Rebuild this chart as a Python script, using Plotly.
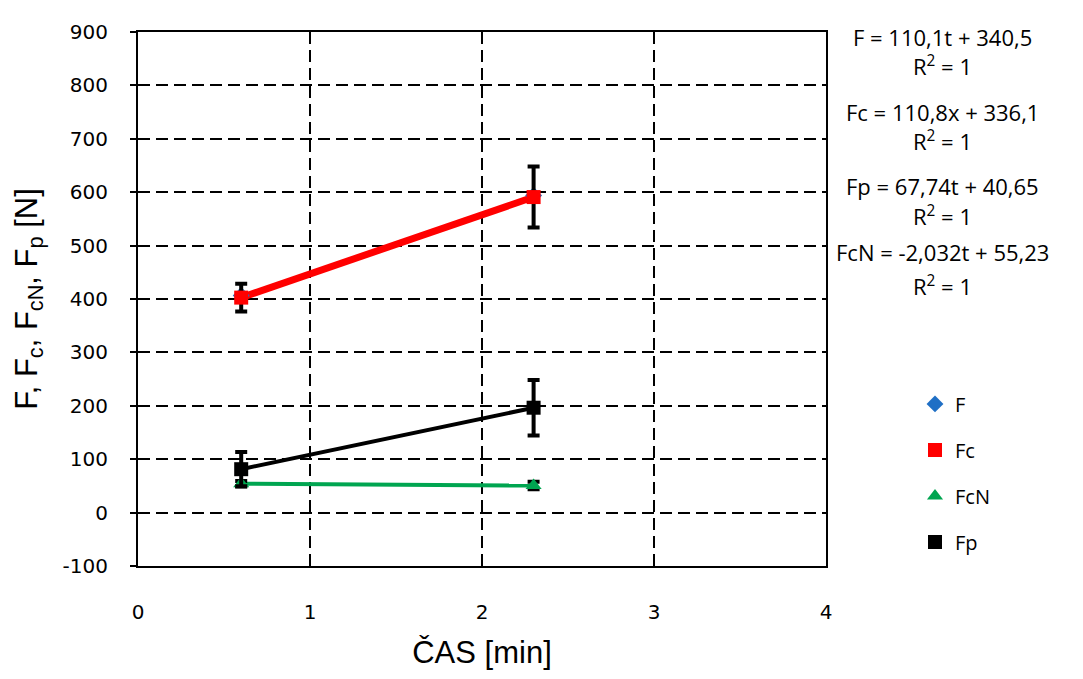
import plotly.graph_objects as go

t = [0.6, 2.3]
F = [406.6, 593.7]
Fc = [402.6, 590.9]
FcN = [54.0, 50.6]
Fp = [81.3, 196.4]
Fc_err = [26, 57]
Fp_err = [32, 52]
FcN_err = [5, 7]

x_ticks = [0, 1, 2, 3, 4]
y_ticks = [-100, 0, 100, 200, 300, 400, 500, 600, 700, 800, 900]
y_tick_text = [str(v) for v in y_ticks]

eq_texts = ["F = 110,1t + 340,5", "R<sup>2</sup> = 1",
            "Fc = 110,8x + 336,1", "R<sup>2</sup> = 1",
            "Fp = 67,74t + 40,65", "R<sup>2</sup> = 1",
            "FcN = -2,032t + 55,23", "R<sup>2</sup> = 1"]
eq_pix_y = [27, 56, 104, 133, 179, 209, 246, 280]

fig = go.Figure()

fig.add_trace(go.Scatter(x=t, y=FcN, mode="lines", line=dict(color="#00a550", width=4), showlegend=False, hoverinfo="skip"))
fig.add_trace(go.Scatter(x=t, y=Fp, mode="lines", line=dict(color="black", width=4), showlegend=False, hoverinfo="skip"))
fig.add_trace(go.Scatter(x=t, y=Fc, mode="lines", line=dict(color="#ff0000", width=7), showlegend=False, hoverinfo="skip"))

err_style = dict(type="data", color="black", thickness=4, width=6)

fig.add_trace(go.Scatter(x=t, y=F, mode="markers", name="F",
                         marker=dict(symbol="diamond", color="#1f6fc5", size=13), legendgroup="F"))
fig.add_trace(go.Scatter(x=t, y=Fc, mode="markers", name="Fc",
                         marker=dict(symbol="square", color="#ff0000", size=14),
                         error_y=dict(array=Fc_err, **err_style), legendgroup="Fc"))
fig.add_trace(go.Scatter(x=t, y=FcN, mode="markers", name="FcN",
                         marker=dict(symbol="triangle-up", color="#00a550", size=14),
                         error_y=dict(array=FcN_err, **err_style), legendgroup="FcN"))
fig.add_trace(go.Scatter(x=t, y=Fp, mode="markers", name="Fp",
                         marker=dict(symbol="square", color="black", size=14),
                         error_y=dict(array=Fp_err, **err_style), legendgroup="Fp"))

OFF = 8  # page body margin
L, R, T, B = 138, 826, 22, 566
W, H = 1083, 679
annotations = []
for txt, py in zip(eq_texts, eq_pix_y):
    annotations.append(dict(x=(942 - L) / (R - L), y=(B - py) / (B - T), xref="paper", yref="paper",
                            text=txt, showarrow=False, xanchor="center", yanchor="middle",
                            font=dict(family="Open Sans, Liberation Sans, sans-serif", size=22, color="black")))

grid = dict(showgrid=True, gridcolor="black", griddash="12px,6px", gridwidth=2,
            showline=True, linecolor="black", linewidth=2, mirror=True, zeroline=False)

fig.update_layout(
    width=W, height=H,
    margin=dict(l=L - OFF, r=W - R + OFF, t=T - OFF, b=H - B + OFF),
    paper_bgcolor="white", plot_bgcolor="white",
    font=dict(family="DejaVu Sans, Verdana, sans-serif", color="black"),
    xaxis=dict(range=[0, 4], tickvals=x_ticks, ticks="", tickfont=dict(size=20), ticklabelstandoff=27,
               title=dict(text="ČAS [min]", font=dict(family="Liberation Sans, Arial, sans-serif", size=31), standoff=18),
               **grid),
    yaxis=dict(range=[-100, 900], tickvals=y_ticks, ticktext=y_tick_text,
               ticks="outside", ticklen=6, tickwidth=2, tickcolor="black", tickfont=dict(size=20), ticklabelstandoff=18,
               title=dict(text="F, F<sub>c</sub>, F<sub>cN</sub>, F<sub>p</sub> [N]",
                          font=dict(family="Liberation Sans, Arial, sans-serif", size=31), standoff=16),
               **grid),
    legend=dict(x=(915 - L) / (R - L), y=(B - 381) / (B - T), xanchor="left", yanchor="top",
                font=dict(family="Open Sans, Liberation Sans, sans-serif", size=20), tracegroupgap=17,
                itemwidth=30, bgcolor="rgba(0,0,0,0)"),
    annotations=annotations,
)

fig.write_html("out.html")
